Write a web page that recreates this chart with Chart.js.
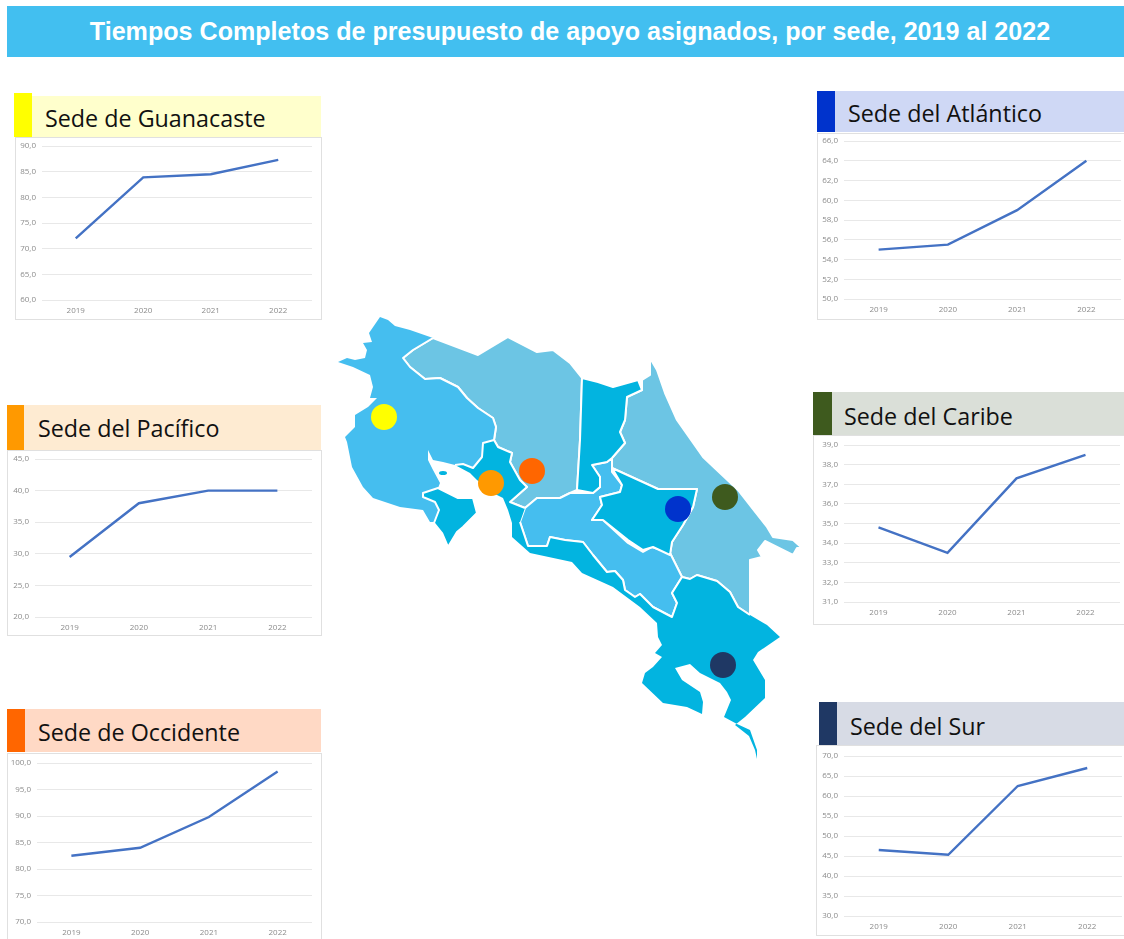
<!DOCTYPE html>
<html lang="es">
<head>
<meta charset="utf-8">
<title>Tiempos Completos de presupuesto de apoyo asignados</title>
<script src="https://cdn.jsdelivr.net/npm/chart.js@4"></script>
<style>
html,body{margin:0;padding:0;background:#fff;width:1124px;height:939px;overflow:hidden;position:relative;}
#title{position:absolute;left:7px;top:6px;width:1117px;height:51px;background:#42BFF0;color:#fff;
 font:bold 25.1px "Liberation Sans",Arial,sans-serif;line-height:50px;text-align:center;white-space:nowrap;text-indent:9px;}
.band{position:absolute;}
.swatch{position:absolute;}
.htext{position:absolute;color:#111;font-family:"Open Sans",sans-serif;font-size:23.3px;line-height:1;white-space:nowrap;}
.frame{position:absolute;box-sizing:border-box;border:1px solid #E0E0E0;background:#fff;}
canvas{position:absolute;}
svg{position:absolute;left:0;top:0;filter:blur(0.5px);}
</style>
</head>
<body>
<div id="title">Tiempos Completos de presupuesto de apoyo asignados, por sede, 2019 al 2022</div>
<svg width="1124" height="939" viewBox="0 0 1124 939">
 <g stroke="#fff" stroke-width="2" stroke-linejoin="round">
  <path fill="#6CC5E4" d="M433,338 L478,355 L508,337 L537,352 L553,350 L570,363 L582,378 L580,440 L577,490 L570,493 L560,498 L537,498 L525,508 L510,502 L527,487 L520,480 L510,462 L512,453 L498,447 L494,440 L496,427 L493,418 L478,408 L467,398 L458,387 L440,378 L425,379 L410,367 L403,358 L413,350 Z"/>
  <path fill="#6CC5E4" d="M642,380 L650,375 L650,358 L657,370 L665,393 L677,420 L703,457 L738,490 L767,527 L773,537 L793,540 L802,548 L797,548 L793,555 L783,550 L765,541 L758,550 L762,557 L750,560 L750,590 L750,615 L738,607 L730,592 L717,581 L697,575 L690,579 L682,577 L670,553 L672,542 L683,525 L693,507 L697,489 L658,489 L612,468 L612,458 L625,443 L620,432 L625,420 L627,397 L642,390 Z" />
  <path fill="#45BEEF" d="M380,317 L388,320 L395,326 L410,330 L433,338 L413,350 L403,358 L410,367 L425,379 L440,378 L458,387 L467,398 L478,408 L493,418 L496,427 L494,440 L483,443 L482,457 L473,468 L463,464 L455,465 L443,462 L433,460 L428,450 L428,460 L433,470 L440,483 L438,488 L423,493 L422,497 L435,502 L439,510 L435,522 L430,522 L423,510 L400,507 L373,498 L363,487 L352,467 L347,442 L345,437 L355,427 L355,415 L368,407 L377,398 L370,398 L373,387 L370,375 L353,367 L338,362 L347,358 L355,360 L365,358 L367,350 L363,343 L372,342 L369,333 Z" stroke="none"/>
  <path fill="none" d="M433,338 L413,350 L403,358 L410,367 L425,379 L440,378 L458,387 L467,398 L478,408 L493,418 L496,427 L494,440"/>
  <path fill="#45BEEF" d="M520,522 L525,508 L537,498 L560,498 L570,493 L577,493 L593,493 L600,487 L600,477 L592,465 L607,462 L612,458 L612,472 L622,485 L620,492 L600,497 L602,505 L592,520 L603,520 L628,543 L643,552 L652,547 L670,553 L682,577 L672,593 L677,603 L672,617 L653,607 L640,594 L635,597 L625,590 L623,580 L615,571 L607,572 L593,555 L583,542 L565,540 L550,537 L547,546 L528,546 Z"/>
  <path fill="#02B4E0" d="M582,378 L598,382 L613,387 L638,380 L642,390 L627,397 L625,420 L620,432 L625,443 L612,458 L607,462 L592,465 L600,477 L600,487 L593,493 L577,490 L580,440 Z"/>
  <path fill="#02B4E0" d="M612,468 L658,489 L697,489 L693,507 L683,525 L672,542 L670,555 L653,547 L643,550 L628,540 L603,520 L592,520 L602,505 L600,497 L620,492 L622,485 Z"/>
  <path fill="#02B4E0" d="M438,488 L458,498 L473,498 L477,513 L463,527 L457,532 L448,547 L442,533 L434,523 L439,510 L435,502 L423,497 L423,493 Z"/>
  <path fill="#02B4E0" d="M512,528 L512,537 L530,553 L572,562 L582,573 L613,587 L640,607 L657,623 L658,637 L662,645 L655,653 L662,657 L653,667 L645,673 L642,683 L663,703 L687,707 L702,714 L703,702 L700,692 L682,680 L675,668 L690,664 L700,673 L720,683 L727,692 L731,700 L724,717 L737,724 L750,730 L757,750 L757,759 L755,750 L749,736 L735,725 L745,717 L765,698 L765,680 L753,660 L758,652 L780,637 L767,625 L750,615 L738,607 L730,592 L717,581 L697,575 L690,579 L682,577 L672,593 L677,603 L672,617 L653,607 L640,594 L635,597 L625,590 L623,580 L615,571 L607,572 L593,555 L583,542 L565,540 L550,537 L547,546 L528,546 L520,522 L525,508 L510,502 L527,487 L520,480 L510,462 L512,453 L498,447 L494,440 L483,443 L482,457 L473,468 L463,464 L455,465 L470,473 L477,480 L493,493 L503,498 L508,510 L512,523 Z" stroke="none"/>
  <path fill="none" d="M750,615 L738,607 L730,592 L717,581 L697,575 L690,579 L682,577 L672,593 L677,603 L672,617 L653,607 L640,594 L635,597 L625,590 L623,580 L615,571 L607,572 L593,555 L583,542 L565,540 L550,537 L547,546 L528,546 L520,522 M525,508 L510,502 L527,487 L520,480 L510,462 L512,453 L498,447 L494,440 L483,443 L482,457 L473,468 L463,464 L455,465"/>
  <ellipse cx="443" cy="473" rx="4" ry="2" fill="#02B4E0" stroke="none"/>
 </g>
 <circle cx="384" cy="417" r="13" fill="#FFFF00"/>
 <circle cx="491" cy="483" r="13" fill="#FF9900"/>
 <circle cx="532" cy="471" r="13" fill="#FF6600"/>
 <circle cx="678" cy="509" r="13" fill="#0033CC"/>
 <circle cx="725" cy="497" r="13" fill="#3E5A1E"/>
 <circle cx="723" cy="665" r="13" fill="#1F3864"/>
</svg>
<script>
const categories = ['2019', '2020', '2021', '2022'];
const guanacaste = [72.0, 83.9, 84.5, 87.3];
const atlantico  = [55.0, 55.5, 59.0, 64.0];
const pacifico   = [29.5, 38.0, 40.0, 40.0];
const caribe     = [34.8, 33.5, 37.3, 38.5];
const occidente  = [82.5, 84.0, 89.8, 98.4];
const sur        = [46.5, 45.3, 62.5, 67.0];

const panels = [
 {name:'Sede de Guanacaste', data:guanacaste, min:60, max:90,  step:5, sw:[14,93,18,44], band:[32,96,289,41], bc:'#FFFFCC', sc:'#FFFF00', tx:45,  ty:107, frame:[15,137,307,183],  plot:[42,312,146,300]},
 {name:'Sede del Atlántico',  data:atlantico,  min:50, max:66,  step:2, sw:[817,91,18,41], band:[835,91,289,41], bc:'#CFD8F5', sc:'#0033CC', tx:848, ty:102, frame:[817,133,310,187], plot:[844,1121,141,299]},
 {name:'Sede del Pacífico',   data:pacifico,   min:20, max:45,  step:5, sw:[7,405,17,45],  band:[24,405,297,45], bc:'#FEEBD2', sc:'#FF9900', tx:38,  ty:417, frame:[7,450,315,186],   plot:[35,312,459,617]},
 {name:'Sede del Caribe',     data:caribe,     min:31, max:39,  step:1, sw:[813,392,19,43],band:[832,392,292,43],bc:'#DADFD8', sc:'#3E5A1E', tx:844, ty:405, frame:[813,435,314,190], plot:[844,1120,445,602]},
 {name:'Sede de Occidente',   data:occidente,  min:70, max:100, step:5, sw:[7,709,18,43],  band:[25,709,296,43], bc:'#FFD9C5', sc:'#FF6600', tx:38,  ty:721, frame:[7,753,315,190],   plot:[37,312,763,922]},
 {name:'Sede del Sur',        data:sur,        min:30, max:70,  step:5, sw:[819,702,18,44],band:[837,702,287,44],bc:'#D7DBE5', sc:'#1F3864', tx:850, ty:715, frame:[816,745,312,191], plot:[844,1122,756,916]}
];

function box(cls, r, color){
  const d = document.createElement('div');
  d.className = cls;
  d.style.cssText = `left:${r[0]}px;top:${r[1]}px;width:${r[2]}px;height:${r[3]}px;` + (color ? `background:${color};` : '');
  document.body.appendChild(d);
  return d;
}

panels.forEach(p => {
  box('band', p.band, p.bc);
  box('swatch', p.sw, p.sc);
  const t = document.createElement('div');
  t.className = 'htext';
  t.style.left = p.tx + 'px';
  t.style.top = p.ty + 'px';
  t.textContent = p.name;
  document.body.appendChild(t);
  box('frame', p.frame);
  const [fx, fy, fw, fh] = p.frame;
  const [pl, pr, pt, pb] = p.plot;
  const c = document.createElement('canvas');
  c.width = fw; c.height = fh;
  c.style.cssText = `left:${fx}px;top:${fy}px;width:${fw}px;height:${fh}px;`;
  document.body.appendChild(c);
  new Chart(c, {
    type: 'line',
    data: { labels: categories, datasets: [{ label: p.name, data: p.data, borderColor: '#4472C4', borderWidth: 2.4, pointRadius: 0, tension: 0, fill: false }] },
    options: {
      responsive: false, animation: false,
      layout: { padding: { left: 0, top: pt - fy, right: fx + fw - pr, bottom: 0 } },
      plugins: { legend: { display: false }, title: { display: false }, tooltip: { enabled: false } },
      scales: {
        x: {
          offset: true,
          grid: { display: false, drawTicks: false },
          border: { display: false },
          ticks: { color: '#8C8C8C', font: { family: '"Open Sans", sans-serif', size: 8 }, padding: 6, maxRotation: 0 },
          afterFit: s => { s.height = fy + fh - pb; s.paddingLeft = 0; s.paddingRight = 0; }
        },
        y: {
          min: p.min, max: p.max,
          grid: { color: '#E8E8E8', lineWidth: 1, drawTicks: false },
          border: { display: false },
          ticks: { stepSize: p.step, color: '#8C8C8C', font: { family: '"Open Sans", sans-serif', size: 8 }, padding: 6,
                   callback: v => v.toFixed(1).replace('.', ',') },
          afterFit: s => { s.width = pl - fx; s.paddingTop = 0; s.paddingBottom = 0; }
        }
      }
    }
  });
});
</script>
</body>
</html>
